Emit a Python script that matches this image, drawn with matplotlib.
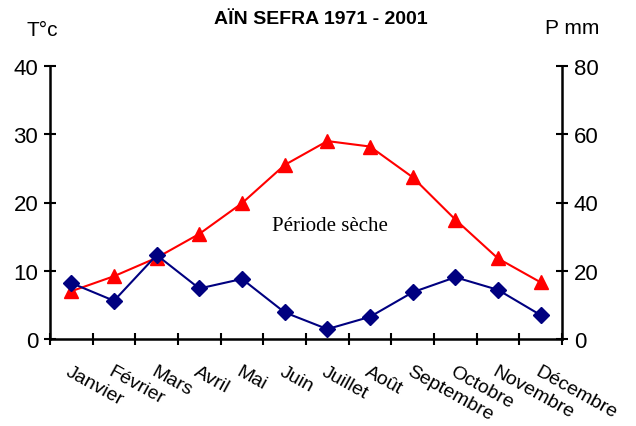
import matplotlib
matplotlib.use("Agg")
import matplotlib.pyplot as plt
import numpy as np

months = ["Janvier", "Février", "Mars", "Avril", "Mai", "Juin", "Juillet",
          "Août", "Septembre", "Octobre", "Novembre", "Décembre"]
temperature = [7.0, 9.2, 11.9, 15.4, 19.9, 25.5, 29.0, 28.2, 23.7, 17.5, 11.8, 8.3]
precipitation = [16.4, 11.2, 24.6, 14.8, 17.6, 7.8, 2.9, 6.5, 13.7, 18.1, 14.4, 7.0]
t_ticks = [0, 10, 20, 30, 40]
p_ticks = [0, 20, 40, 60, 80]

sans = "Liberation Sans"
fig = plt.figure(figsize=(6.36, 4.27), dpi=100)
ax = fig.add_axes([50 / 636, 1 - 340 / 427, 512 / 636, 273 / 427])
ax2 = ax.twinx()

x = np.arange(len(months))
ax.plot(x, temperature, color="#FF0000", lw=1.5, marker="^", ms=10,
        markeredgecolor="#FF0000", zorder=3)
ax2.plot(x, precipitation, color="#000080", lw=1.5, marker="D", ms=8,
         markeredgecolor="#000080", zorder=3)

ax.set_xlim(-0.5, len(months) - 0.5)
ax.set_ylim(0, 40)
ax2.set_ylim(0, 80)

for a in (ax, ax2):
    a.spines["top"].set_visible(False)
    for s in a.spines.values():
        s.set_linewidth(1.8)
ax2.spines["left"].set_visible(False)
ax2.spines["bottom"].set_visible(False)
ax.spines["right"].set_visible(False)

ax.set_yticks(t_ticks)
ax.set_yticklabels([str(v) for v in t_ticks], fontsize=16, fontfamily=sans)
ax2.set_yticks(p_ticks)
ax2.set_yticklabels([str(v) for v in p_ticks], fontsize=16, fontfamily=sans)
ax.tick_params(axis="y", direction="inout", length=9, width=1.5, pad=4)
ax2.tick_params(axis="y", direction="inout", length=9, width=1.5, pad=4)

# boundary ticks between months, month names at the centres
ax.set_xticks(np.arange(-0.5, len(months)), labels=[""] * (len(months) + 1))
ax.tick_params(axis="x", which="major", direction="inout", length=9, width=1.5)
ax.set_xticks(x, minor=True)
ax.set_xticklabels(months, minor=True, rotation=-29, ha="left", va="top",
                   rotation_mode="anchor", fontsize=14, fontfamily=sans)
ax.tick_params(axis="x", which="minor", length=0, pad=17)

fig.text(321 / 636, 1 - 20 / 427, "AÏN SEFRA 1971 - 2001", ha="center", va="center",
         fontsize=14, fontweight="bold", fontfamily=sans)
fig.text(42 / 636, 1 - 31 / 427, "T°c", ha="center", va="center",
         fontsize=15, fontfamily=sans)
fig.text(572 / 636, 1 - 29 / 427, "P mm", ha="center", va="center",
         fontsize=15, fontfamily=sans)
ax.text(6.05, 16.6, "Période sèche", ha="center", va="center",
        fontsize=15, fontfamily="Liberation Serif")

fig.savefig("out.png", dpi=100)
